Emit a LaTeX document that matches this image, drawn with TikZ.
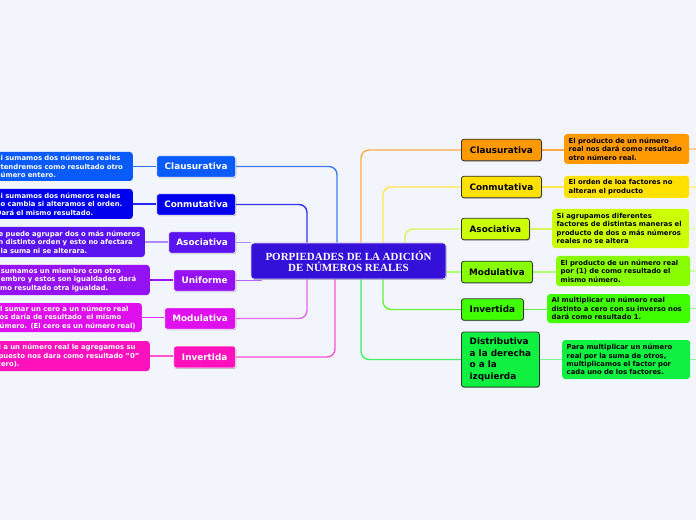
\documentclass[tikz,border=0pt]{standalone}
\usepackage{fontspec}
\setmainfont{DejaVu Sans}
\newfontfamily\titleserif{Liberation Serif}
\usetikzlibrary{shadows}
\pgfdeclarelayer{bg}
\pgfsetlayers{bg,main}
\definecolor{bgc}{HTML}{F3F5FC}
\definecolor{cen}{HTML}{3410D9}
% left
\definecolor{La}{HTML}{0A5BFF}
\definecolor{Lb}{HTML}{0000EE}
\definecolor{Lc}{HTML}{5A14F0}
\definecolor{Ld}{HTML}{9512F5}
\definecolor{Le}{HTML}{E010EE}
\definecolor{Lf}{HTML}{FF12BE}
\definecolor{Lal}{HTML}{3D7BFF}
\definecolor{Lbl}{HTML}{3333F5}
\definecolor{Lcl}{HTML}{A98BFF}
\definecolor{Ldl}{HTML}{B366FF}
\definecolor{Lel}{HTML}{E566F2}
\definecolor{Lfl}{HTML}{FF55D0}
% right
\definecolor{Ra}{HTML}{FF9900}
\definecolor{Rb}{HTML}{FFE100}
\definecolor{Rc}{HTML}{CCFF00}
\definecolor{Rd}{HTML}{88FF00}
\definecolor{Re}{HTML}{40FF00}
\definecolor{Rf}{HTML}{10F040}
\definecolor{Ral}{HTML}{FFAA45}
\definecolor{Rbl}{HTML}{FFE84D}
\definecolor{Rcl}{HTML}{D8F560}
\definecolor{Rdl}{HTML}{B0FF70}
\definecolor{Rel}{HTML}{66F040}
\definecolor{Rfl}{HTML}{44EE66}
\begin{document}
\begin{tikzpicture}[x=1bp,y=-1bp,
  box/.style={rounded corners=2.5bp, inner sep=0pt, font=\fontsize{8.9}{11.7}\selectfont\bfseries, minimum height=21.5bp},
  lbox/.style={box, draw=white, line width=0.7bp, text=white, drop shadow={shadow xshift=0.6bp, shadow yshift=-0.9bp, opacity=0.3, fill=black}},
  rbox/.style={box, draw=black!80, line width=0.8bp, text=black, drop shadow={shadow xshift=0.6bp, shadow yshift=-0.9bp, opacity=0.3, fill=black}},
  desc/.style={rounded corners=3bp, inner xsep=4.5bp, inner ysep=0pt, align=left, font=\fontsize{6.9}{8.4}\selectfont\bfseries},
  ldesc/.style={desc, text=white, anchor=east},
  rdesc/.style={desc, text=black, anchor=west},
  trunk/.style={line width=1.4bp, rounded corners=8bp},
  twig/.style={line width=1.2bp}]
\useasboundingbox (0,0) rectangle (696,520);
\begin{pgfonlayer}{bg}
\fill[bgc] (0,0) rectangle (696,520);
\end{pgfonlayer}

% centre
\node[draw=white!85!cen, line width=0.7bp, fill=cen, text=white, rounded corners=3bp, inner sep=0pt,
  minimum width=195bp, minimum height=36bp, align=center,
  font=\titleserif\bfseries\fontsize{11}{11}\selectfont,
  drop shadow={shadow xshift=0.6bp, shadow yshift=-0.9bp, opacity=0.3, fill=black}]
  (c) at (348.5,261) {PORPIEDADES DE LA ADICIÓN\\DE NÚMEROS REALES};

% left main nodes
\node[lbox, fill=La, minimum width=79bp, anchor=east] (l1) at (236,166.5) {Clausurativa};
\node[lbox, fill=Lb, minimum width=79bp, anchor=east] (l2) at (236,204.5) {Conmutativa};
\node[lbox, fill=Lc, minimum width=67bp, anchor=east] (l3) at (236,242.5) {Asociativa};
\node[lbox, fill=Ld, minimum width=62bp, anchor=east] (l4) at (236,280.5) {Uniforme};
\node[lbox, fill=Le, minimum width=71bp, anchor=east] (l5) at (236,318.5) {Modulativa};
\node[lbox, fill=Lf, minimum width=62bp, anchor=east, minimum height=22bp] (l6) at (236,357) {Invertida};

% left descriptions
\node[ldesc, fill=La, text width=132.5bp, minimum height=29bp] (d1) at (133,166.5)
  {\mbox{Si sumamos dos números reales}\\\mbox{otendremos como resultado otro}\\\mbox{número entero.}};
\node[ldesc, fill=Lb, text width=132.5bp, minimum height=30bp] (d2) at (133,204)
  {\mbox{Si sumamos dos números reales}\\\mbox{no cambia si alteramos el orden.}\\\mbox{Dará el mismo resultado.}};
\node[ldesc, fill=Lc, text width=146.5bp, minimum height=30bp] (d3) at (145,242)
  {\mbox{Se puede agrupar dos o más números}\\\mbox{en distinto orden y esto no afectara}\\\mbox{a la suma ni se alterara.}};
\node[ldesc, fill=Ld, text width=154bp, minimum height=30bp] (d4) at (150,280)
  {\mbox{Si sumamos un miembro con otro}\\\mbox{miembro y estos son igualdades dará}\\\mbox{como resultado otra igualdad.}};
\node[ldesc, fill=Le, text width=142.5bp, minimum height=29bp] (d5) at (142,317.5)
  {\mbox{Al sumar un cero a un número real}\\\mbox{nos daría de resultado\ \ el mismo}\\\mbox{número. (El cero es un número real)}};
\node[ldesc, fill=Lf, text width=151.5bp, minimum height=30bp] (d6) at (150,356)
  {\mbox{Si a un número real le agregamos su}\\\mbox{opuesto nos dara como resultado "0"}\\\mbox{(cero).}};

% right main nodes
\node[rbox, fill=Ra, minimum width=80bp, anchor=west] (r1) at (461,150) {Clausurativa};
\node[rbox, fill=Rb, minimum width=80bp, anchor=west] (r2) at (461,187) {Conmutativa};
\node[rbox, fill=Rc, minimum width=68bp, anchor=west] (r3) at (461,229) {Asociativa};
\node[rbox, fill=Rd, minimum width=71bp, anchor=west] (r4) at (461,272) {Modulativa};
\node[rbox, fill=Re, minimum width=62bp, anchor=west] (r5) at (461,309.5) {Invertida};
\node[rbox, fill=Rf, minimum width=78bp, minimum height=55bp, anchor=west, align=left] (r6) at (461,359.5)
  {Distributiva\\a la derecha\\o a la\\izquierda};

% right descriptions
\node[rdesc, fill=Ra, text width=116bp, minimum height=30bp] (e1) at (564,149)
  {\mbox{El producto de un número}\\\mbox{real nos dará como resultado}\\\mbox{otro número real.}};
\node[rdesc, fill=Rb, text width=116bp, minimum height=22bp] (e2) at (564,187)
  {\mbox{El orden de loa factores no}\\\mbox{alteran el producto}};
\node[rdesc, fill=Rc, text width=128bp, minimum height=39bp, font=\fontsize{6.9}{8.6}\selectfont\bfseries] (e3) at (552,228.5)
  {\mbox{Si agrupamos diferentes}\\\mbox{factores de distintas maneras el}\\\mbox{producto de dos o más números}\\\mbox{reales no se altera}};
\node[rdesc, fill=Rd, text width=125bp, minimum height=30bp] (e4) at (556,271)
  {\mbox{El producto de un número real}\\\mbox{por (1) de como resultado el}\\\mbox{mismo número.}};
\node[rdesc, fill=Re, text width=134bp, minimum height=29bp] (e5) at (547,308.5)
  {\mbox{Al multiplicar un número real}\\\mbox{distinto a cero con su inverso nos}\\\mbox{dará como resultado 1.}};
\node[rdesc, fill=Rf, text width=119bp, minimum height=39bp] (e6) at (562,359.5)
  {\mbox{Para multiplicar un número}\\\mbox{real por la suma de otros,}\\\mbox{multiplicamos el factor por}\\\mbox{cada uno de los factores.}};

% free ends at the right border
\coordinate (z1) at (696,149);
\coordinate (z2) at (696,187);
\coordinate (z3) at (696,228.5);
\coordinate (z4) at (696,271);
\coordinate (z5) at (696,308.5);
\coordinate (z6) at (696,359.5);

\begin{pgfonlayer}{bg}
% left trunks
\draw[trunk, Lal] (l1.east) -| ([xshift=-11.5bp]c.north);
\draw[trunk, Lbl] (l2.east) -| ([xshift=-41.5bp]c.north);
\draw[trunk, Lcl] (l3.east) -- (l3.east -| c.west);
\draw[trunk, Ldl] (l4.east) -- ([xshift=11bp]l4.east -| c.west);
\draw[trunk, Lel] (l5.east) -| ([xshift=-41.5bp]c.south);
\draw[trunk, Lfl] (l6.east) -| ([xshift=-13.5bp]c.south);
% left twigs
\draw[twig, La!85!white] (d1.east) -- (d1.east -| l1.west);
\draw[twig, Lb!85!white] (d2.east) -- (d2.east -| l2.west);
\draw[twig, Lcl] (d3.east) -- (d3.east -| l3.west);
\draw[twig, Ld] (d4.east) -- (d4.east -| l4.west);
\draw[twig, Le!85!white] (d5.east) -- (d5.east -| l5.west);
\draw[twig, Lfl] (d6.east) -- (d6.east -| l6.west);
% right trunks
\draw[trunk, Ral] (r1.west) -| ([xshift=12.5bp]c.north);
\draw[trunk, Rbl] (r2.west) -| ([xshift=34.5bp]c.north);
\draw[trunk, Rcl] (r3.west) -| ([xshift=56.5bp]c.north);
\draw[trunk, Rdl] (r4.west -| c.east) -- (r4.west);
\draw[trunk, Rel] (r5.west) -| ([xshift=34.5bp]c.south);
\draw[trunk, Rfl] (r6.west) -| ([xshift=12.5bp]c.south);
% right twigs
\draw[twig, Ral] (r1.east) -- (r1.east -| e1.west);
\draw[twig, Rbl] (r2.east) -- (r2.east -| e2.west);
\draw[twig, Rcl] (r3.east) -- (r3.east -| e3.west);
\draw[twig, Rdl] (r4.east) -- (r4.east -| e4.west);
\draw[twig, Rel] (r5.east) -- (r5.east -| e5.west);
\draw[twig, Rfl!70!white] (r6.east) -- (r6.east -| e6.west);
% stubs to the border
\draw[twig, Ral!60!white] (e1.east) -- (z1);
\draw[twig, Rbl!60!white] (e2.east) -- (z2);
\draw[twig, Rcl!60!white] (e3.east) -- (z3);
\draw[twig, Rdl!60!white] (e4.east) -- (z4);
\draw[twig, Rel!60!white] (e5.east) -- (z5);
\draw[twig, Rfl!60!white] (e6.east) -- (z6);
\end{pgfonlayer}
\end{tikzpicture}
\end{document}
